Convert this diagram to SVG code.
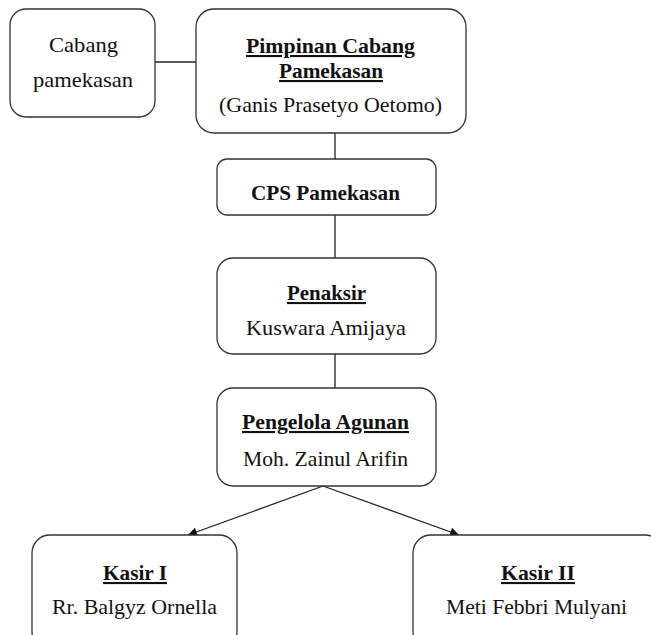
<svg xmlns="http://www.w3.org/2000/svg" width="651" height="635" viewBox="0 0 651 635">
<style>
.box{fill:#fff;stroke:#333;stroke-width:1.3}
.t{font-family:'Liberation Serif','Times New Roman',Times,'DejaVu Serif',serif;font-size:21px;fill:#111;text-anchor:middle}
.b{font-weight:bold;text-decoration:underline}
.bn{font-weight:bold}
.c{stroke:#222;stroke-width:1.3;fill:none}
</style>
<defs>
<marker id="ah" viewBox="0 0 10 10" refX="10" refY="5" markerWidth="11" markerHeight="9" markerUnits="userSpaceOnUse" orient="auto">
<path d="M0,0 L10,5 L0,10 z" fill="#111"/>
</marker>
</defs>
<rect width="651" height="635" fill="#fff"/>
<g id="connectors">
<line class="c" x1="155" y1="62" x2="196" y2="62"/>
<line class="c" x1="335" y1="133" x2="335" y2="159"/>
<line class="c" x1="335" y1="215" x2="335" y2="258"/>
<line class="c" x1="335" y1="354" x2="335" y2="388"/>
<line class="c" x1="323" y1="486" x2="188" y2="535" marker-end="url(#ah)"/>
<line class="c" x1="323" y1="486" x2="459" y2="535" marker-end="url(#ah)"/>
</g>
<g id="cabang">
<rect class="box" x="10" y="9" width="145" height="108" rx="16"/>
<text class="t" x="83.5" y="52" textLength="69" lengthAdjust="spacingAndGlyphs">Cabang</text>
<text class="t" x="83" y="87" textLength="100" lengthAdjust="spacingAndGlyphs">pamekasan</text>
</g>
<g id="pimpinan">
<rect class="box" x="196" y="9" width="270" height="124" rx="18"/>
<text class="t b" x="330.5" y="53" textLength="169" lengthAdjust="spacingAndGlyphs">Pimpinan Cabang</text>
<text class="t b" x="331" y="78" textLength="104" lengthAdjust="spacingAndGlyphs">Pamekasan</text>
<text class="t" x="330.5" y="112" textLength="223" lengthAdjust="spacingAndGlyphs">(Ganis Prasetyo Oetomo)</text>
</g>
<g id="cps">
<rect class="box" x="217" y="159" width="219" height="56" rx="10"/>
<text class="t bn" x="325.5" y="200" textLength="149" lengthAdjust="spacingAndGlyphs">CPS Pamekasan</text>
</g>
<g id="penaksir">
<rect class="box" x="217" y="258" width="219" height="96" rx="16"/>
<text class="t b" x="326.5" y="300" textLength="79" lengthAdjust="spacingAndGlyphs">Penaksir</text>
<text class="t" x="326" y="335" textLength="160" lengthAdjust="spacingAndGlyphs">Kuswara Amijaya</text>
</g>
<g id="pengelola">
<rect class="box" x="217" y="388" width="219" height="98" rx="16"/>
<text class="t b" x="325.5" y="429" textLength="167" lengthAdjust="spacingAndGlyphs">Pengelola Agunan</text>
<text class="t" x="325.5" y="466" textLength="165" lengthAdjust="spacingAndGlyphs">Moh. Zainul Arifin</text>
</g>
<g id="kasir1">
<rect class="box" x="32" y="535" width="205" height="115" rx="18"/>
<text class="t b" x="135" y="580" textLength="64" lengthAdjust="spacingAndGlyphs">Kasir I</text>
<text class="t" x="134.5" y="614" textLength="165" lengthAdjust="spacingAndGlyphs">Rr. Balgyz Ornella</text>
</g>
<g id="kasir2">
<rect class="box" x="413" y="535" width="250" height="115" rx="18"/>
<text class="t b" x="538" y="580" textLength="74" lengthAdjust="spacingAndGlyphs">Kasir II</text>
<text class="t" x="536.5" y="614" textLength="181" lengthAdjust="spacingAndGlyphs">Meti Febbri Mulyani</text>
</g>
</svg>
